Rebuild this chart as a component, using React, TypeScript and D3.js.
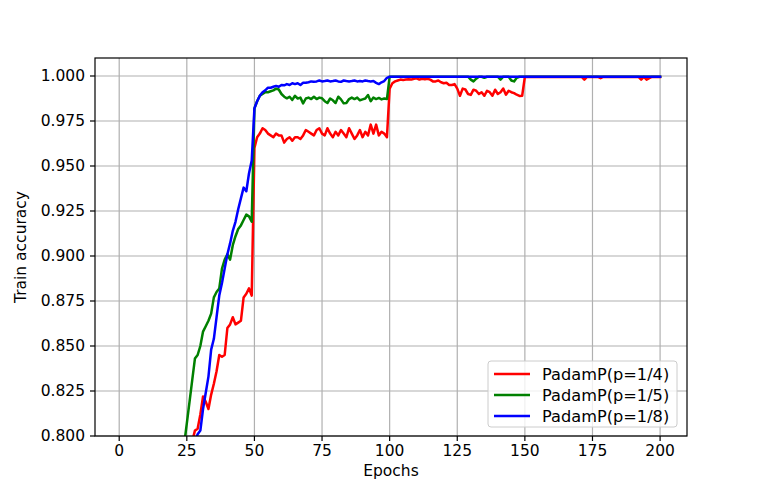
import React, { useEffect } from 'react';
import * as d3 from 'd3';

const xTicks = [0, 25, 50, 75, 100, 125, 150, 175, 200];
const yTicks = [0.8, 0.825, 0.85, 0.875, 0.9, 0.925, 0.95, 0.975, 1.0];
const seriesNames = ['PadamP(p=1/4)', 'PadamP(p=1/5)', 'PadamP(p=1/8)'];
const seriesColors = ['#ff0000', '#008000', '#0000ff'];

// red: PadamP(p=1/4), starting at epoch 27
const redStart = 27;
const redValues = [
  0.797, 0.803, 0.804, 0.812, 0.822, 0.819, 0.815, 0.823, 0.829, 0.836, 0.845, 0.844, 0.845,
  0.860, 0.862, 0.866, 0.862, 0.863, 0.864, 0.877, 0.879, 0.882, 0.878,
  0.960, 0.966, 0.968, 0.971, 0.970, 0.968, 0.967, 0.966, 0.968, 0.967, 0.967, 0.963, 0.965,
  0.966, 0.964, 0.966, 0.966, 0.965, 0.967, 0.970, 0.969, 0.968, 0.967, 0.970, 0.971, 0.968,
  0.967, 0.971, 0.968, 0.966, 0.969, 0.967, 0.970, 0.968, 0.966, 0.971, 0.968, 0.965, 0.967,
  0.970, 0.966, 0.969, 0.967, 0.973, 0.968, 0.973, 0.967, 0.969, 0.968, 0.966,
  0.993, 0.996, 0.997, 0.9975, 0.998, 0.9978, 0.998, 0.9982, 0.998, 0.9985, 0.9987, 0.998,
  0.9985, 0.9982, 0.9985, 0.998, 0.997, 0.997, 0.9975, 0.9965, 0.996, 0.9962, 0.995, 0.995,
  0.9955, 0.993, 0.989, 0.993, 0.9925, 0.990, 0.9895, 0.9924, 0.9918, 0.990, 0.991, 0.989,
  0.9918, 0.991, 0.989, 0.9924, 0.990, 0.991, 0.993, 0.9896, 0.9918, 0.991, 0.9905, 0.9896,
  0.9889, 0.989,
  0.9995, 0.9995, 0.9995, 0.9995, 0.9995, 0.9995, 0.9995, 0.9995, 0.9995, 0.9995, 0.9995,
  0.9995, 0.9995, 0.9995, 0.9995, 0.9995, 0.9995, 0.9995, 0.9995, 0.9995, 0.9995, 0.9995,
  0.998, 0.9995, 0.9995, 0.9995, 0.9995, 0.9995, 0.9988, 0.9995, 0.9995, 0.9995, 0.9995,
  0.9995, 0.9995, 0.9995, 0.9995, 0.9995, 0.9995, 0.9995, 0.9995, 0.9995, 0.9995, 0.998,
  0.9995, 0.998, 0.9988, 0.9995, 0.9995, 0.9995, 0.9995,
];

// green: PadamP(p=1/5), starting at epoch 24
const greenStart = 24;
const greenValues = [
  0.795, 0.807, 0.819, 0.831, 0.843, 0.845, 0.850, 0.858, 0.861, 0.864, 0.868, 0.877, 0.880,
  0.882, 0.893, 0.898, 0.901, 0.898, 0.906, 0.911, 0.915, 0.917, 0.920, 0.923, 0.922, 0.919,
  0.982, 0.986, 0.989, 0.990, 0.991, 0.991, 0.9915, 0.992, 0.993, 0.9925, 0.990, 0.9885,
  0.9876, 0.9885, 0.9867, 0.989, 0.9875, 0.988, 0.9848, 0.9875, 0.988, 0.9872, 0.9885,
  0.9872, 0.988, 0.9876, 0.986, 0.985, 0.9875, 0.9865, 0.985, 0.9885, 0.987, 0.9848, 0.985,
  0.9872, 0.988, 0.9872, 0.988, 0.9865, 0.987, 0.9875, 0.9894, 0.986, 0.988, 0.9872, 0.9878,
  0.987, 0.9875, 0.9872,
  0.9996, 0.9996, 0.9996, 0.9996, 0.9996, 0.9996, 0.9996, 0.9996, 0.9996, 0.9996, 0.9996,
  0.9996, 0.9996, 0.9996, 0.9996, 0.9996, 0.9996, 0.9996, 0.9996, 0.9996, 0.9996, 0.9996,
  0.9996, 0.9996, 0.9996, 0.9996, 0.9996, 0.9996, 0.9996, 0.9996, 0.998, 0.997, 0.9985,
  0.9996, 0.9996, 0.999, 0.9996, 0.9996, 0.9996, 0.9996, 0.9996, 0.998, 0.9996, 0.9996,
  0.9996, 0.9975, 0.997, 0.999, 0.9996, 0.9996, 0.9996, 0.9996, 0.9996, 0.9996, 0.9996,
  0.9996, 0.9996, 0.9996, 0.9996, 0.9996, 0.9996, 0.9996, 0.9996, 0.9996, 0.9996, 0.9996,
  0.9996, 0.9996, 0.9996, 0.9996, 0.9996, 0.9996, 0.9996, 0.9996, 0.9996, 0.9996, 0.9996,
  0.9996, 0.9996, 0.9996, 0.9996, 0.9996, 0.9996, 0.9996, 0.9996, 0.9996, 0.9996, 0.9996,
  0.9996, 0.9996, 0.9996, 0.9996, 0.9996, 0.9996, 0.9996, 0.9996, 0.9996, 0.9996, 0.9996,
  0.9996, 0.9996,
];

// blue: PadamP(p=1/8), starting at epoch 28
const blueStart = 28;
const blueValues = [
  0.797, 0.801, 0.803, 0.815, 0.824, 0.833, 0.848, 0.854, 0.866, 0.878, 0.885, 0.893, 0.901,
  0.907, 0.914, 0.919, 0.926, 0.932, 0.938, 0.936, 0.946, 0.953,
  0.982, 0.986, 0.989, 0.991, 0.992, 0.9935, 0.9935, 0.994, 0.9945, 0.994, 0.995, 0.9948,
  0.9955, 0.995, 0.996, 0.9955, 0.996, 0.995, 0.9962, 0.9962, 0.9965, 0.997, 0.9968, 0.997,
  0.9975, 0.997, 0.9972, 0.9975, 0.997, 0.9972, 0.9975, 0.997, 0.9968, 0.9975, 0.9972, 0.997,
  0.9972, 0.9975, 0.997, 0.9972, 0.997, 0.9975, 0.9972, 0.997, 0.9972, 0.9962, 0.9955,
  0.9965, 0.9972, 0.999,
  0.9996, 0.9996, 0.9996, 0.9996, 0.9996, 0.9996, 0.9996, 0.9996, 0.9996, 0.9996, 0.9996,
  0.9996, 0.9996, 0.9996, 0.9996, 0.9996, 0.9996, 0.9996, 0.9996, 0.9996, 0.9996, 0.9996,
  0.9996, 0.9996, 0.9996, 0.9996, 0.9996, 0.9996, 0.9996, 0.9996, 0.9996, 0.9996, 0.9996,
  0.9996, 0.9996, 0.9996, 0.9996, 0.9996, 0.9996, 0.9996, 0.9996, 0.9996, 0.9996, 0.9996,
  0.9996, 0.9996, 0.9996, 0.9996, 0.9996, 0.9996, 0.9996, 0.9996, 0.9996, 0.9996, 0.9996,
  0.9996, 0.9996, 0.9996, 0.9996, 0.9996, 0.9996, 0.9996, 0.9996, 0.9996, 0.9996, 0.9996,
  0.9996, 0.9996, 0.9996, 0.9996, 0.9996, 0.9996, 0.9996, 0.9996, 0.9996, 0.9996, 0.9996,
  0.9996, 0.9996, 0.9996, 0.9996, 0.9996, 0.9996, 0.9996, 0.9996, 0.9996, 0.9996, 0.9996,
  0.9996, 0.9996, 0.9996, 0.9996, 0.9996, 0.9996, 0.9996, 0.9996, 0.9996, 0.9996, 0.9996,
  0.9996, 0.9996,
];

const W = 763;
const H = 490;
const M = { left: 95, right: 76, top: 58, bottom: 54 };
const FONT = '"DejaVu Sans", sans-serif';

export default function App() {
  useEffect(() => {
    document.body.style.margin = '0';
  }, []);

  const x = d3.scaleLinear().domain([-8.95, 209.95]).range([M.left, W - M.right]);
  const y = d3.scaleLinear().domain([0.8, 1.01]).range([H - M.bottom, M.top]);

  const series = [
    { start: redStart, values: redValues },
    { start: greenStart, values: greenValues },
    { start: blueStart, values: blueValues },
  ];

  const line = d3
    .line<[number, number]>()
    .x((d) => x(d[0]))
    .y((d) => y(d[1]));

  const x0 = M.left;
  const x1 = W - M.right;
  const y0 = H - M.bottom;
  const y1 = M.top;

  const lgX = 488;
  const lgY = 361;
  const lgW = 189;
  const lgH = 66;
  const rowH = 21;

  return (
    <svg width={W} height={H} style={{ position: 'absolute', left: 0, top: 0, display: 'block' }}>
      <rect x={0} y={0} width={W} height={H} fill="#ffffff" />
      <defs>
        <clipPath id="plotClip">
          <rect x={x0} y={y1} width={x1 - x0} height={y0 - y1} />
        </clipPath>
      </defs>
      {/* grid */}
      <g stroke="#b0b0b0" strokeWidth={1.2}>
        {xTicks.map((t) => (
          <line key={'gx' + t} x1={x(t)} x2={x(t)} y1={y0} y2={y1} />
        ))}
        {yTicks.map((t) => (
          <line key={'gy' + t} x1={x0} x2={x1} y1={y(t)} y2={y(t)} />
        ))}
      </g>
      {/* lines */}
      <g clipPath="url(#plotClip)" fill="none" strokeWidth={2.5} strokeLinejoin="round" strokeLinecap="square">
        {series.map((s, i) => (
          <path
            key={seriesNames[i]}
            d={line(s.values.map((v, j) => [s.start + j, v] as [number, number])) || ''}
            stroke={seriesColors[i]}
          />
        ))}
      </g>
      {/* frame */}
      <rect x={x0} y={y1} width={x1 - x0} height={y0 - y1} fill="none" stroke="#000" strokeWidth={1.2} />
      {/* ticks */}
      <g fontFamily={FONT} fontSize={15.5} fill="#000">
        {xTicks.map((t) => (
          <g key={'tx' + t}>
            <line x1={x(t)} x2={x(t)} y1={y0} y2={y0 + 5} stroke="#000" strokeWidth={1.2} />
            <text x={x(t)} y={y0 + 9} textAnchor="middle" dominantBaseline="hanging">
              {t}
            </text>
          </g>
        ))}
        {yTicks.map((t) => (
          <g key={'ty' + t}>
            <line x1={x0 - 5} x2={x0} y1={y(t)} y2={y(t)} stroke="#000" strokeWidth={1.2} />
            <text x={x0 - 10} y={y(t)} textAnchor="end" dominantBaseline="central">
              {d3.format('.3f')(t)}
            </text>
          </g>
        ))}
      </g>
      <text x={(x0 + x1) / 2} y={476} textAnchor="middle" fontFamily={FONT} fontSize={15.5}>
        Epochs
      </text>
      <text
        transform={`translate(21,${(y0 + y1) / 2}) rotate(-90)`}
        textAnchor="middle"
        dominantBaseline="central"
        fontFamily={FONT}
        fontSize={15.5}
      >
        Train accuracy
      </text>
      {/* legend */}
      <g>
        <rect x={lgX} y={lgY} width={lgW} height={lgH} rx={3} fill="#ffffff" fillOpacity={0.8} stroke="#cccccc" strokeWidth={1} />
        {seriesNames.map((n, i) => (
          <g key={'lg' + n}>
            <line x1={lgX + 6} x2={lgX + 42} y1={lgY + 13 + i * rowH} y2={lgY + 13 + i * rowH} stroke={seriesColors[i]} strokeWidth={2.5} />
            <text x={lgX + 54} y={lgY + 13 + i * rowH} dominantBaseline="central" fontFamily={FONT} fontSize={16.2}>
              {n}
            </text>
          </g>
        ))}
      </g>
    </svg>
  );
}
